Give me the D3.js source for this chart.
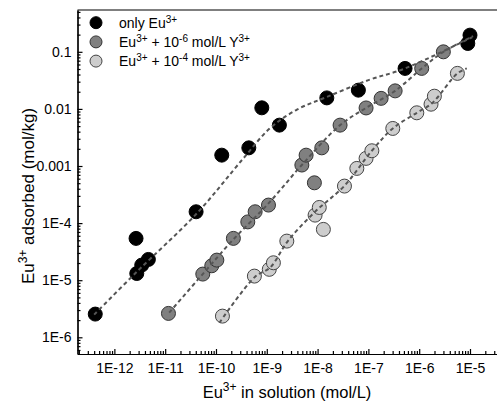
<!DOCTYPE html>
<html>
<head>
<meta charset="utf-8" />
<title>Eu adsorption isotherms</title>
<script src="https://d3js.org/d3.v7.min.js"></script>
<style>
  body { margin: 0; background: #fff; }
  svg { display: block; font-family: "Liberation Sans", Arial, sans-serif; }
  .axis path, .axis line { stroke: #000; stroke-width: 1.2; }
  .axis text { font-size: 14px; fill: #000; font-family: "Liberation Sans", Arial, sans-serif; }
</style>
</head>
<body>
<svg id="chart" width="497" height="403"></svg>
<script>
// tick labels
var xMajors = [1e-12, 1e-11, 1e-10, 1e-9, 1e-8, 1e-7, 1e-6, 1e-5];
var xTickLabels = ["1E-12", "1E-11", "1E-10", "1E-9", "1E-8", "1E-7", "1E-6", "1E-5"];
var yMajors = [1e-6, 1e-5, 1e-4, 1e-3, 1e-2, 1e-1];
var yTickLabels = ["1E-6", "1E-5", "1E-4", "0.001", "0.01", "0.1"];

// only Eu
var euX = [4.2e-13, 2.67e-12, 2.76e-12, 3.46e-12, 4.67e-12, 4.06e-11, 1.3e-10, 4.43e-10, 7.98e-10, 1.77e-9, 1.52e-8, 6.35e-8, 5.27e-7, 9.05e-6, 1.0e-5];
var euY = [2.55e-6, 5.4e-5, 1.31e-5, 1.84e-5, 2.31e-5, 1.58e-4, 1.55e-3, 2.08e-3, 0.01045, 5.2e-3, 0.0156, 0.0213, 0.0512, 0.14, 0.196];

// Eu + 1e-6 mol/L Y
var y6X = [1.16e-11, 5.5e-11, 8.26e-11, 1.04e-10, 2.2e-10, 4.23e-10, 5.9e-10, 1.08e-9, 4.9e-9, 5.94e-9, 8.65e-9, 1.21e-8, 2.77e-8, 9.0e-8, 1.78e-7, 3.36e-7, 1.12e-6, 2.99e-6];
var y6Y = [2.62e-6, 1.28e-5, 1.79e-5, 2.25e-5, 5.4e-5, 1.05e-4, 1.58e-4, 2.07e-4, 1.04e-3, 1.55e-3, 5.08e-4, 2.08e-3, 5.2e-3, 0.0104, 0.0153, 0.0207, 0.0512, 0.1];

// Eu + 1e-4 mol/L Y
var y4X = [1.34e-10, 5.7e-10, 1.12e-9, 1.35e-9, 2.48e-9, 8.93e-9, 1.08e-8, 1.3e-8, 3.38e-8, 5.92e-8, 9.0e-8, 1.17e-7, 3.02e-7, 8.97e-7, 1.71e-6, 1.99e-6, 5.65e-6];
var y4Y = [2.35e-6, 1.18e-5, 1.55e-5, 2.02e-5, 4.84e-5, 1.38e-4, 1.88e-4, 7.76e-5, 4.45e-4, 9.08e-4, 1.36e-3, 1.85e-3, 4.55e-3, 8.55e-3, 0.0121, 0.0167, 0.0419];

// model curves
var fitEuX = [4.0e-13, 2.76e-12, 4.19e-11, 3.46e-10, 1.16e-9, 4.0e-9, 1.52e-8, 1.0e-7, 5.27e-7, 1.1e-5];
var fitEuY = [2.5e-6, 1.40e-5, 1.48e-4, 1.36e-3, 4.6e-3, 0.0098, 0.0162, 0.0319, 0.0512, 0.18];
var fit6X = [1.2e-11, 5.65e-11, 2.2e-10, 1.08e-9, 4.89e-9, 2.77e-8, 9e-8, 3.36e-7, 1.12e-6, 3e-6, 1.15e-5];
var fit6Y = [2.7e-6, 1.32e-5, 5.19e-5, 2.21e-4, 1.04e-3, 5.2e-3, 0.0104, 0.0207, 0.0512, 0.1, 0.188];
var fit4X = [1.17e-10, 5.89e-10, 1.16e-9, 2.62e-9, 8.93e-9, 3.33e-8, 1.17e-7, 3.02e-7, 8.97e-7, 1.77e-6, 5.65e-6, 8.65e-6];
var fit4Y = [1.8e-6, 1.15e-5, 1.66e-5, 4.9e-5, 1.58e-4, 4.45e-4, 1.85e-3, 4.55e-3, 8.55e-3, 0.0125, 0.0419, 0.0512];

var plotLeft = 77.5, plotRight = 497, plotTop = 10, plotBottom = 354;

var svg = d3.select("#chart");

var x = d3.scaleLog().domain([1.88e-13, 3.4e-5]).range([plotLeft, plotRight]);
var y = d3.scaleLog().domain([5.1e-7, 0.54]).range([plotBottom, plotTop]);

// minor ticks 2..9 within each decade
function minors(scale) {
    var d = scale.domain(), out = [];
    for (var e = Math.floor(Math.log10(d[0])); e <= Math.ceil(Math.log10(d[1])); e++) {
        for (var k = 2; k <= 9; k++) {
            var v = k * Math.pow(10, e);
            if (v >= d[0] && v <= d[1]) out.push(v);
        }
    }
    return out;
}

// x axis
svg.append("g").attr("class", "axis")
    .attr("transform", "translate(0," + plotBottom + ")")
    .call(d3.axisBottom(x).tickValues(minors(x)).tickSize(-3).tickSizeOuter(0).tickFormat(""));
svg.append("g").attr("class", "axis")
    .attr("transform", "translate(0," + plotBottom + ")")
    .call(d3.axisBottom(x).tickValues(xMajors).tickSize(-5).tickSizeOuter(0).tickPadding(9)
        .tickFormat(function(d, i) { return xTickLabels[i]; }));

// y axis
svg.append("g").attr("class", "axis")
    .attr("transform", "translate(" + plotLeft + ",0)")
    .call(d3.axisLeft(y).tickValues(minors(y)).tickSize(-3).tickSizeOuter(0).tickFormat(""));
svg.append("g").attr("class", "axis")
    .attr("transform", "translate(" + plotLeft + ",0)")
    .call(d3.axisLeft(y).tickValues(yMajors).tickSize(-5).tickSizeOuter(0).tickPadding(6)
        .tickFormat(function(d, i) { return yTickLabels[i]; }));

// top frame line
svg.append("line")
    .attr("x1", plotLeft).attr("x2", plotRight).attr("y1", plotTop).attr("y2", plotTop)
    .attr("stroke", "#000").attr("stroke-width", 1.2);

var series = [
    { xs: euX, ys: euY, fill: "#000000", stroke: "#000000" },
    { xs: y6X, ys: y6Y, fill: "#808080", stroke: "#333333" },
    { xs: y4X, ys: y4Y, fill: "#cdcdcd", stroke: "#444444" }
];

series.forEach(function(s) {
    svg.append("g").selectAll("circle")
        .data(d3.zip(s.xs, s.ys))
        .enter().append("circle")
        .attr("cx", function(d) { return x(d[0]); })
        .attr("cy", function(d) { return y(d[1]); })
        .attr("r", 7)
        .attr("fill", s.fill)
        .attr("stroke", s.stroke)
        .attr("stroke-width", 1);
});

var line = d3.line()
    .x(function(d) { return x(d[0]); })
    .y(function(d) { return y(d[1]); })
    .curve(d3.curveCatmullRom.alpha(0.5));

[[fitEuX, fitEuY], [fit6X, fit6Y], [fit4X, fit4Y]].forEach(function(f) {
    svg.append("path")
        .datum(d3.zip(f[0], f[1]))
        .attr("d", line)
        .attr("fill", "none")
        .attr("stroke", "#555555")
        .attr("stroke-width", 2)
        .attr("stroke-dasharray", "4,3");
});

// legend
var legendRows = [
    { fill: "#000000", stroke: "#000000", parts: [["only Eu", ""], ["3+", "sup"]] },
    { fill: "#808080", stroke: "#333333", parts: [["Eu", ""], ["3+", "sup"], [" + 10", ""], ["-6", "sup"], [" mol/L Y", ""], ["3+", "sup"]] },
    { fill: "#cdcdcd", stroke: "#444444", parts: [["Eu", ""], ["3+", "sup"], [" + 10", ""], ["-4", "sup"], [" mol/L Y", ""], ["3+", "sup"]] }
];

var legend = svg.append("g");
legendRows.forEach(function(r, i) {
    var cy = 22.7 + i * 19.2;
    legend.append("circle")
        .attr("cx", 96).attr("cy", cy).attr("r", 6)
        .attr("fill", r.fill).attr("stroke", r.stroke);
    var t = legend.append("text")
        .attr("x", 119).attr("y", cy + 5)
        .attr("font-size", 14);
    r.parts.forEach(function(p) {
        var ts = t.append("tspan").text(p[0]);
        if (p[1] === "sup") ts.attr("font-size", 10).attr("baseline-shift", "super");
    });
});

// axis titles
var xt = svg.append("text")
    .attr("x", 287).attr("y", 398)
    .attr("text-anchor", "middle").attr("font-size", 16.5);
xt.append("tspan").text("Eu");
xt.append("tspan").text("3+").attr("font-size", 12).attr("baseline-shift", "super");
xt.append("tspan").text(" in solution (mol/L)");

var yt = svg.append("text")
    .attr("transform", "translate(34,196) rotate(-90)")
    .attr("text-anchor", "middle").attr("font-size", 17);
yt.append("tspan").text("Eu");
yt.append("tspan").text("3+").attr("font-size", 12).attr("baseline-shift", "super");
yt.append("tspan").text(" adsorbed (mol/kg)");
</script>
</body>
</html>
